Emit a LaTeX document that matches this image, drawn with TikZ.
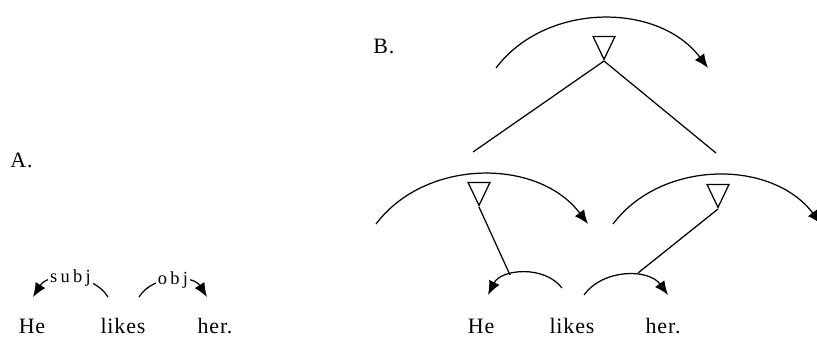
\documentclass[tikz,border=0pt]{standalone}
\usepackage{fontspec}
\setmainfont{Liberation Serif}
\usetikzlibrary{arrows.meta,shapes.geometric}

\begin{document}
\begin{tikzpicture}[>={Latex[length=2.8mm,width=2.3mm]},x=0.02cm,y=0.02cm,
  wd/.style={anchor=base,inner sep=0pt,font=\fontsize{12.5}{15}\selectfont\addfontfeature{LetterSpace=4}},
  lab/.style={fill=white,inner sep=1pt,font=\fontsize{10.5}{12}\selectfont\addfontfeature{LetterSpace=18}},
  tri/.style={draw,line width=0.7pt,isosceles triangle,isosceles triangle stretches,shape border rotate=-90,minimum height=0.46cm,minimum width=0.44cm,inner sep=0pt,anchor=apex},
  ar/.style={->,line width=0.7pt},
  ln/.style={line width=0.7pt}]
\clip (0,0) rectangle (817,336);
% A: flat dependency arcs
\node[wd,anchor=base west] (labA) at (10,169) {A.};
\node[wd] (heA) at (32,3) {He};
\node[wd] (likesA) at (123,3) {likes};
\node[wd] (herA) at (215,3) {her.};
\coordinate (sA) at (108,39); \coordinate (eA) at (33,39);
\coordinate (sB) at (139,39); \coordinate (eB) at (207,39);
\draw[ar] (sA) to[bend right=58] node[lab] (subj) {subj} (eA);
\draw[ar] (sB) to[bend left=58] node[lab] (obj) {obj} (eB);
% B: arcs hung from triangles
\node[wd,anchor=base west] (labB) at (373,283) {B.};
\node[wd] (heB) at (481,3) {He};
\node[wd] (likesB) at (572,3) {likes};
\node[wd] (herB) at (663,3) {her.};
\node[tri] (tTop) at (604,275) {};
\node[tri] (tL) at (479,129) {};
\node[tri] (tR) at (718,127) {};
\coordinate (top1) at (496,268); \coordinate (top2) at (708,268);
\coordinate (midL1) at (376,112); \coordinate (midL2) at (588,112);
\coordinate (midR1) at (613,112); \coordinate (midR2) at (821,112);
\coordinate (smL1) at (562,48); \coordinate (smL2) at (488,41);
\coordinate (smR1) at (584,41); \coordinate (smR2) at (668,41);
\coordinate (footL) at (473,184); \coordinate (footR) at (716,183);
\coordinate (footSL) at (510,61); \coordinate (footSR) at (638,63);
\draw[ar] (top1) to[bend left=53] (top2);
\draw[ar] (midL1) to[bend left=53] (midL2);
\draw[ar] (midR1) to[bend left=53] (midR2);
\draw[ar] (smL1) to[bend right=58] (smL2);
\draw[ar] (smR1) to[bend left=54] (smR2);
\draw[ln] (tTop.apex) -- (footL); \draw[ln] (tTop.apex) -- (footR);
\draw[ln] (tL.apex) -- (footSL); \draw[ln] (tR.apex) -- (footSR);
\end{tikzpicture}
\end{document}
